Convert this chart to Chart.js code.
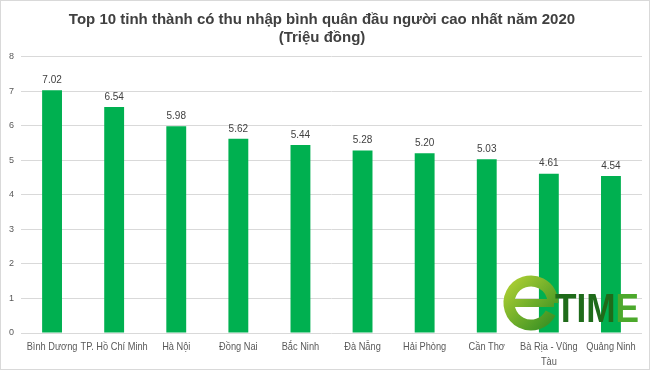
<!DOCTYPE html>
<html>
<head>
<meta charset="utf-8">
<script src="https://cdn.jsdelivr.net/npm/chart.js@4.4.1/dist/chart.umd.min.js"></script>
<style>
  html, body { margin: 0; padding: 0; background: #fff; }
  #wrap { width: 650px; height: 370px; position: relative; }
</style>
</head>
<body>
<div id="wrap"><canvas id="incomeChart"></canvas></div>
<script>
// data
const provinces = ['Bình Dương', 'TP. Hồ Chí Minh', 'Hà Nội', 'Đồng Nai', 'Bắc Ninh', 'Đà Nẵng', 'Hải Phòng', 'Cần Thơ', ['Bà Rịa - Vũng', 'Tàu'], 'Quảng Ninh'];
const incomes = [7.02, 6.54, 5.98, 5.62, 5.44, 5.28, 5.20, 5.03, 4.61, 4.54];
const yTicks = [0, 1, 2, 3, 4, 5, 6, 7, 8];
const titleLines = ['Top 10 tỉnh thành có thu nhập bình quân đầu người cao nhất năm 2020', '(Triệu đồng)'];

// value labels above bars
const valueLabels = {
    id: 'valueLabels',
    afterDatasetsDraw(chart) {
        const ctx = chart.ctx;
        const meta = chart.getDatasetMeta(0);
        ctx.save();
        ctx.font = '10px "Liberation Sans", Arial, sans-serif';
        ctx.fillStyle = '#404040';
        ctx.textAlign = 'center';
        ctx.textBaseline = 'bottom';
        meta.data.forEach((bar, i) => {
            ctx.fillText(incomes[i].toFixed(2), bar.x, bar.y - 5);
        });
        ctx.restore();
    }
};

// category labels, drawn a bit condensed (Calibri-like)
const condensedLabels = {
    id: 'condensedLabels',
    afterDraw(chart) {
        const ctx = chart.ctx;
        const xs = chart.scales.x;
        ctx.save();
        ctx.font = '11px "Liberation Sans", Arial, sans-serif';
        ctx.fillStyle = '#595959';
        ctx.textAlign = 'center';
        ctx.textBaseline = 'middle';
        provinces.forEach((label, i) => {
            const lines = Array.isArray(label) ? label : [label];
            const x = xs.getPixelForTick(i);
            lines.forEach((line, j) => {
                ctx.save();
                ctx.translate(x, xs.top + 14 + j * 15);
                ctx.scale(0.84, 1);
                ctx.fillText(line, 0, 0);
                ctx.restore();
            });
        });
        ctx.restore();
    }
};

// outer frame + eTIME watermark
const frameAndLogo = {
    id: 'frameAndLogo',
    afterDraw(chart) {
        const ctx = chart.ctx;
        ctx.save();
        ctx.strokeStyle = '#d9d9d9';
        ctx.lineWidth = 1;
        ctx.strokeRect(0.5, 0.5, chart.width - 1, chart.height - 1);

        // logo "e"
        const cx = 531, cy = 303;
        const grad = ctx.createLinearGradient(cx - 25, cy - 25, cx + 25, cy + 25);
        grad.addColorStop(0, '#b5d334');
        grad.addColorStop(1, '#2e8b22');
        ctx.lineWidth = 11;
        ctx.strokeStyle = grad;
        ctx.beginPath();
        ctx.arc(cx, cy, 22, 0.15 * Math.PI, 2 * Math.PI);
        ctx.stroke();
        ctx.fillStyle = grad;
        ctx.fillRect(cx - 27, cy - 4, 50, 8);
        ctx.fillStyle = '#1f6b1a';
        ctx.font = 'bold 40px "Liberation Sans", sans-serif';
        ctx.textAlign = 'left';
        ctx.textBaseline = 'alphabetic';
        ctx.save();
        ctx.translate(555, 322);
        ctx.scale(0.88, 1);
        ctx.fillText('TIM', 0, 0);
        ctx.fillStyle = '#4ca92c';
        ctx.fillText('E', ctx.measureText('TIM').width, 0);
        ctx.restore();
        ctx.restore();
    }
};

new Chart(document.getElementById('incomeChart'), {
    type: 'bar',
    data: {
        labels: provinces,
        datasets: [{
            data: incomes,
            backgroundColor: '#00b050',
            borderWidth: 0,
            barPercentage: 0.64,
            categoryPercentage: 0.5
        }]
    },
    options: {
        responsive: true,
        maintainAspectRatio: false,
        animation: false,
        layout: { padding: { left: 2, right: 8, top: 4, bottom: 0 } },
        plugins: {
            legend: { display: false },
            tooltip: { enabled: false },
            title: {
                display: true,
                text: titleLines,
                color: '#404040',
                font: { family: '"Liberation Sans", Arial, sans-serif', size: 15, weight: 'bold', lineHeight: 1.25 },
                padding: { top: 6, bottom: 9 }
            }
        },
        scales: {
            x: {
                grid: { display: false },
                border: { display: false },
                ticks: { display: false },
                afterFit(scale) { scale.height = 37; }
            },
            y: {
                min: 0,
                max: 8,
                afterBuildTicks(axis) {
                    axis.ticks = yTicks.map(v => ({ value: v }));
                },
                grid: { color: '#d9d9d9', drawTicks: false },
                border: { display: false },
                ticks: {
                    color: '#595959',
                    padding: 7,
                    font: { family: '"Liberation Sans", Arial, sans-serif', size: 9 }
                }
            }
        }
    },
    plugins: [valueLabels, condensedLabels, frameAndLogo]
});
</script>
</body>
</html>
